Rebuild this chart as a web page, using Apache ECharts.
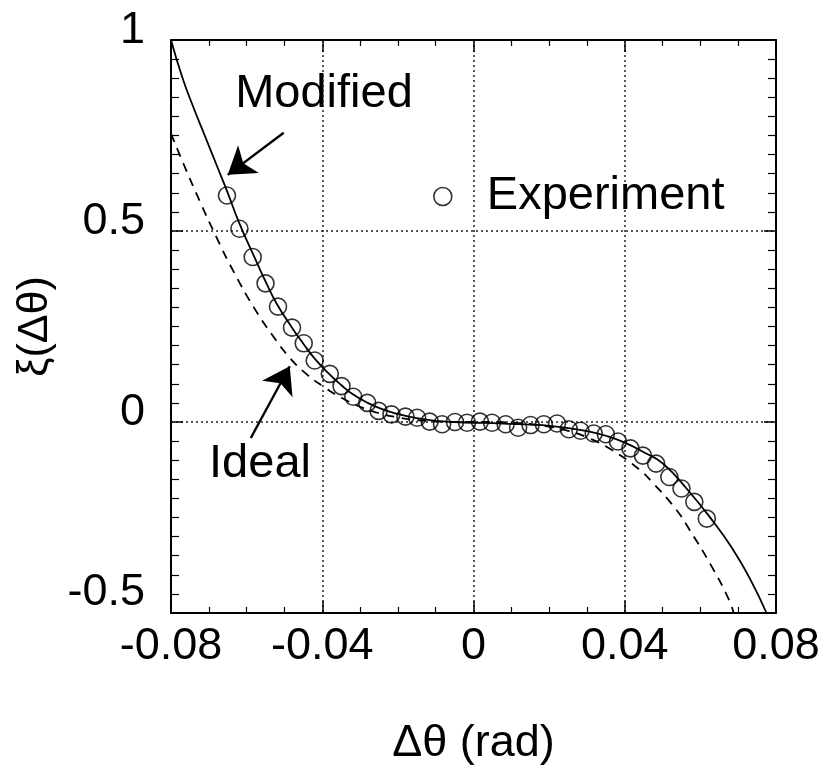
<!DOCTYPE html>
<html>
<head>
<meta charset="utf-8">
<script src="https://cdn.jsdelivr.net/npm/echarts@6/dist/echarts.min.js"></script>
<style>
html,body{margin:0;padding:0;background:#fff;}
#chart{width:830px;height:776px;}
</style>
</head>
<body>
<div id="chart"></div>
<script>
// ---- data ----
var xTickLabels = ['-0.08', '-0.04', '0', '0.04', '0.08'];
var yTickLabels = ['-0.5', '0', '0.5', '1'];

var expX = [-0.0652,-0.0619,-0.0584,-0.0550,-0.0517,-0.0480,-0.0449,-0.0420,-0.0380,-0.0349,-0.0318,-0.0281,-0.0251,-0.0217,-0.0180,-0.0149,-0.0116,-0.0083,-0.0049,-0.0017,0.0017,0.0049,0.0085,0.0118,0.0151,0.0186,0.0221,0.0252,0.0283,0.0318,0.0350,0.0382,0.0415,0.0448,0.0483,0.0518,0.0550,0.0584,0.0617];
var expY = [0.593,0.506,0.432,0.363,0.302,0.247,0.206,0.161,0.126,0.094,0.066,0.050,0.029,0.020,0.014,0.011,0.001,-0.006,0.000,-0.002,0.001,-0.002,-0.006,-0.015,-0.008,-0.006,-0.004,-0.019,-0.023,-0.030,-0.032,-0.051,-0.069,-0.088,-0.109,-0.144,-0.174,-0.209,-0.253];

var modX = [-0.080,-0.077,-0.074,-0.071,-0.068,-0.065,-0.062,-0.058,-0.055,-0.052,-0.048,-0.045,-0.042,-0.038,-0.035,-0.032,-0.028,-0.024,-0.020,-0.015,-0.010,-0.005,0.000,0.005,0.010,0.015,0.020,0.025,0.030,0.035,0.040,0.045,0.050,0.0565,0.0635,0.0685,0.073,0.0775];
var modY = [1.000,0.902,0.822,0.748,0.674,0.600,0.522,0.433,0.368,0.309,0.247,0.205,0.166,0.124,0.097,0.073,0.050,0.033,0.021,0.010,0.003,0.000,-0.002,-0.003,-0.005,-0.007,-0.010,-0.016,-0.024,-0.036,-0.054,-0.079,-0.108,-0.176,-0.262,-0.332,-0.408,-0.500];

var idealX = [-0.080,-0.0767,-0.0722,-0.0678,-0.0634,-0.0581,-0.0528,-0.0484,-0.044,-0.0396,-0.0352,-0.030,-0.025,-0.020,-0.015,-0.010,-0.005,0.000,0.005,0.010,0.015,0.020,0.025,0.030,0.0364,0.0438,0.0473,0.0535,0.057,0.0632,0.0676,0.0688];
var idealY = [0.755,0.676,0.574,0.480,0.393,0.300,0.222,0.166,0.124,0.092,0.065,0.040,0.023,0.012,0.005,0.0015,0.000,0.000,0.000,-0.0015,-0.005,-0.012,-0.023,-0.040,-0.072,-0.124,-0.158,-0.228,-0.280,-0.382,-0.466,-0.500];

// annotation arrows (data coordinates): [tail, head]
var modArrow = [[-0.0502, 0.757], [-0.0650, 0.647]];
var idealArrow = [[-0.0589, -0.042], [-0.0486, 0.146]];

function zip(a, b) { return a.map(function (v, i) { return [v, b[i]]; }); }

var FONT = '"Liberation Sans", Arial, Helvetica, sans-serif';
var black = '#000';

var chart = echarts.init(document.getElementById('chart'), null, {renderer: 'canvas'});

function xAxisBase(pos) {
  return {
    type: 'value', min: -0.08, max: 0.08, interval: 0.04, position: pos,
    axisLine: {show: true, onZero: false, lineStyle: {color: black, width: 2}},
    axisTick: {show: true, inside: true, length: 12, lineStyle: {color: black, width: 1.5}},
    minorTick: {show: true, splitNumber: 4, length: 6, lineStyle: {color: black, width: 1.2}},
    splitLine: {show: false}
  };
}
function yAxisBase(pos) {
  return {
    type: 'value', min: -0.5, max: 1, interval: 0.5, position: pos,
    axisLine: {show: true, onZero: false, lineStyle: {color: black, width: 2}},
    axisTick: {show: true, inside: true, length: 12, lineStyle: {color: black, width: 1.5}},
    minorTick: {show: true, splitNumber: 10, length: 8, lineStyle: {color: black, width: 1.2}},
    splitLine: {show: false}
  };
}

var xb = xAxisBase('bottom');
xb.splitLine = {show: true, lineStyle: {color: '#222', type: [2, 3], width: 1.5}};
xb.axisLabel = {
  show: true, fontSize: 45, fontFamily: FONT, color: black, margin: 11,
  formatter: function (v, i) { return xTickLabels[i]; }
};
xb.name = 'Δθ (rad)';
xb.nameLocation = 'middle';
xb.nameGap = 108;
xb.nameTextStyle = {fontSize: 45, fontFamily: FONT, color: black};

var xt = xAxisBase('top');
xt.axisLabel = {show: false};

var yl = yAxisBase('left');
yl.splitLine = {show: true, lineStyle: {color: '#222', type: [2, 3], width: 1.5}};
yl.axisLabel = {
  show: true, fontSize: 45, fontFamily: FONT, color: black, margin: 26,
  formatter: function (v, i) {
    var t = yTickLabels[i];
    return i === 0 ? '{lo|' + t + '}' : '{n|' + t + '}';
  },
  rich: {
    n: {fontSize: 45, fontFamily: FONT, color: black, padding: [0, 0, 18, 0]},
    lo: {fontSize: 45, fontFamily: FONT, color: black, padding: [0, 0, 40, 0]}
  }
};
yl.name = 'ξ(Δθ)';
yl.nameLocation = 'middle';
yl.nameGap = 99;
yl.nameRotate = 90;
yl.nameTextStyle = {fontSize: 43, fontFamily: FONT, color: black};

var yr = yAxisBase('right');
yr.axisLabel = {show: false};

var option = {
  backgroundColor: '#fff',
  animation: false,
  grid: {left: 171, right: 54, top: 40, bottom: 163},
  xAxis: [xb, xt],
  yAxis: [yl, yr],
  legend: {
    show: true,
    left: 428, top: 168,
    data: ['Experiment'],
    icon: 'circle',
    itemWidth: 18, itemHeight: 18,
    itemStyle: {color: '#fff', borderColor: black, borderWidth: 1.6},
    textStyle: {fontSize: 47, fontFamily: FONT, color: black, padding: [0, 0, 0, 30]},
    selectedMode: false
  },
  graphic: [
    {type: 'text', x: 324, y: 94, style: {text: 'Modified', fontSize: 47, fontFamily: FONT, fill: black, align: 'center', verticalAlign: 'middle'}},
    {type: 'text', x: 260, y: 464, style: {text: 'Ideal', fontSize: 47, fontFamily: FONT, fill: black, align: 'center', verticalAlign: 'middle'}}
  ],
  series: [
    {
      name: 'Modified', type: 'line', xAxisIndex: 0, yAxisIndex: 0,
      data: zip(modX, modY), showSymbol: false, smooth: 0.5,
      lineStyle: {color: black, width: 1.8}, z: 3,
      markLine: {
        silent: true, animation: false,
        symbol: ['none', 'arrow'], symbolSize: 26,
        lineStyle: {color: black, width: 2.4, type: 'solid'},
        label: {show: false},
        data: [
          [{coord: modArrow[0]}, {coord: modArrow[1]}],
          [{coord: idealArrow[0]}, {coord: idealArrow[1]}]
        ]
      }
    },
    {
      name: 'Ideal', type: 'line', xAxisIndex: 0, yAxisIndex: 0,
      data: zip(idealX, idealY), showSymbol: false, smooth: 0.5,
      lineStyle: {color: black, width: 1.8, type: [9, 7]}, z: 3
    },
    {
      name: 'Experiment', type: 'scatter', xAxisIndex: 0, yAxisIndex: 0,
      data: zip(expX, expY), symbol: 'circle', symbolSize: 17,
      itemStyle: {color: 'rgba(0,0,0,0)', borderColor: black, borderWidth: 1.6}, z: 4
    }
  ]
};
chart.setOption(option);
</script>
</body>
</html>
